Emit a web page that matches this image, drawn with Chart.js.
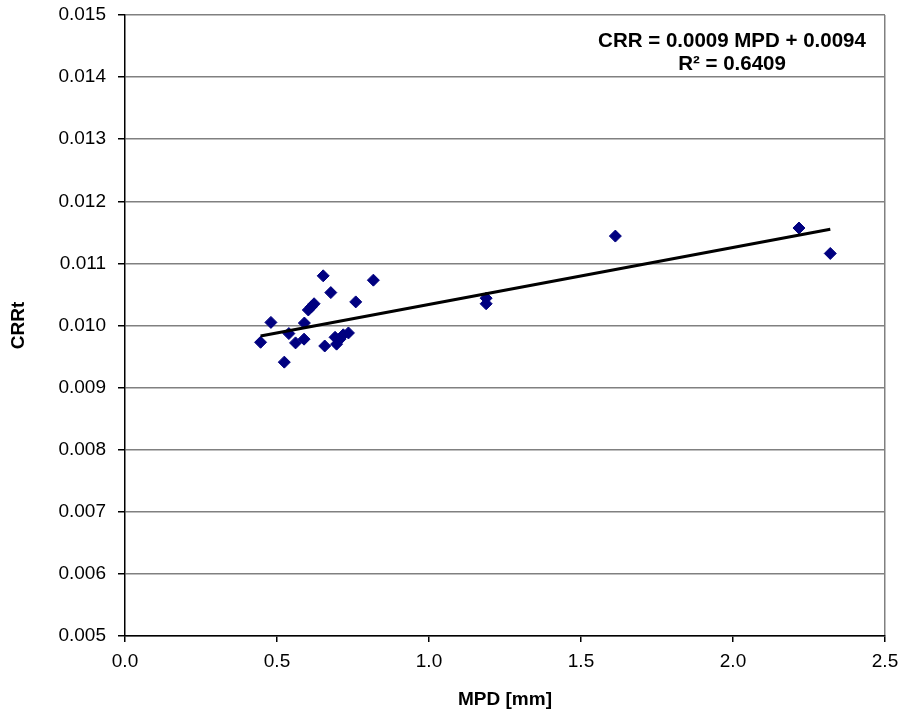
<!DOCTYPE html>
<html>
<head>
<meta charset="utf-8">
<script src="https://cdn.jsdelivr.net/npm/chart.js@4.4.1/dist/chart.umd.min.js"></script>
<style>
  html, body { margin: 0; padding: 0; background: #fff; }
  #wrap { width: 901px; height: 713px; }
</style>
</head>
<body>
<div id="wrap"><canvas id="myChart" width="901" height="713"></canvas></div>
<script>
// measured points: MPD [mm] vs CRRt
const mpd = [0.446, 0.480, 0.524, 0.539, 0.561, 0.589, 0.590, 0.603, 0.613, 0.622,
             0.652, 0.657, 0.677, 0.691, 0.696, 0.707, 0.718, 0.735, 0.759, 0.817,
             1.188, 1.188, 1.613, 2.217, 2.320];
const crrt = [0.00973, 0.01005, 0.00941, 0.00987, 0.00972, 0.00978, 0.01004, 0.01025, 0.01030, 0.01035,
              0.01080, 0.00967, 0.01053, 0.00981, 0.00970, 0.00978, 0.00985, 0.00988, 0.01038, 0.01073,
              0.01044, 0.01035, 0.01144, 0.01157, 0.01116];
// linear trend line ends
const trendX = [0.446, 2.320];
const trendY = [0.00983, 0.01155];
const eqLines = ["CRR = 0.0009 MPD + 0.0094", "R\u00B2 = 0.6409"];

const FONT = "'Liberation Sans', Arial, sans-serif";
const ctx = document.getElementById('myChart').getContext("2d");

const eqLabel = {
  id: 'eqLabel',
  afterDraw(chart) {
    const c = chart.ctx;
    c.save();
    c.font = "bold 20.5px " + FONT;
    c.fillStyle = "#000";
    c.textAlign = "center";
    c.textBaseline = "middle";
    c.fillText(eqLines[0], 732, 41);
    c.fillText(eqLines[1], 732, 64);
    c.restore();
  }
};

const data = {
  datasets: [{
    label: "CRRt",
    data: mpd.map((x, i) => ({x: x, y: crrt[i]})),
    pointStyle: 'rectRot',
    pointRadius: 6,
    pointBorderWidth: 1,
    backgroundColor: '#000080',
    borderColor: '#000080',
    showLine: false,
    order: 2
  }, {
    label: "trend",
    data: trendX.map((x, i) => ({x: x, y: trendY[i]})),
    showLine: true,
    borderColor: '#000',
    borderWidth: 3,
    pointRadius: 0,
    fill: false,
    order: 1
  }]
};

const config = {
  type: 'scatter',
  data: data,
  plugins: [eqLabel],
  options: {
    responsive: false,
    animation: false,
    layout: { padding: { top: 15, right: 16, left: 0, bottom: 0 } },
    plugins: { legend: { display: false }, tooltip: { enabled: false } },
    scales: {
      x: {
        min: 0, max: 2.5,
        afterFit: s => { s.height = 77; s.paddingLeft = 0; s.paddingRight = 0; },
        ticks: { stepSize: 0.5, color: '#000', padding: 8, font: { family: FONT, size: 19 },
                 callback: v => v.toFixed(1) },
        grid: {
          color: c => c.tick && c.tick.value === 2.5 ? '#808080' : 'rgba(0,0,0,0)',
          tickColor: '#000', tickLength: 6, lineWidth: 1.5
        },
        border: { color: '#000', width: 1.5 },
        title: { display: true, text: 'MPD [mm]', color: '#000',
                 font: { family: FONT, size: 19, weight: 'bold' }, padding: { top: 0, bottom: 2 } }
      },
      y: {
        min: 0.005, max: 0.015,
        afterFit: s => { s.width = 125; s.paddingTop = 0; s.paddingBottom = 0; },
        ticks: { stepSize: 0.001, color: '#000', padding: 12, font: { family: FONT, size: 19 },
                 callback: v => v.toFixed(3) },
        grid: { color: '#808080', tickColor: '#000', tickLength: 7, lineWidth: 1.5 },
        border: { color: '#000', width: 1.5 },
        title: { display: true, text: 'CRRt', color: '#000',
                 font: { family: FONT, size: 19, weight: 'bold' }, padding: { top: 7, bottom: 0 } }
      }
    }
  }
};

const myChart = new Chart(ctx, config);
</script>
</body>
</html>
